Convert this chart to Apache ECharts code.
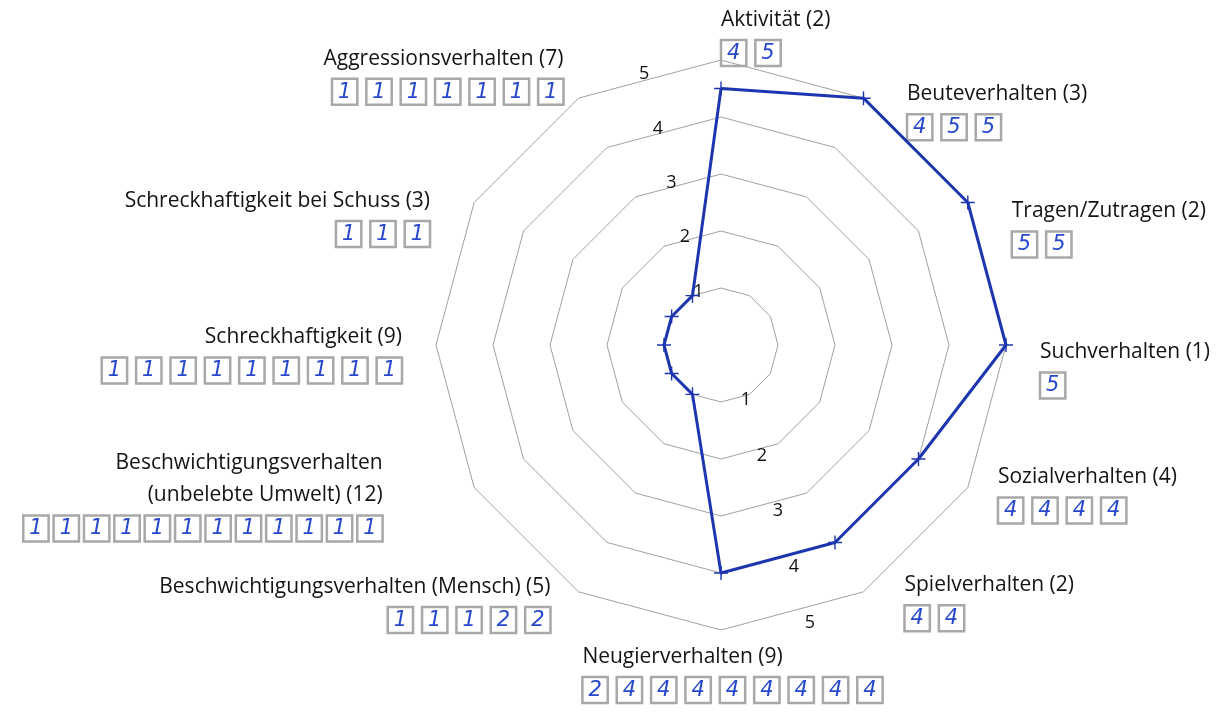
<!DOCTYPE html>
<html>
<head>
<meta charset="utf-8">
<script src="https://cdn.jsdelivr.net/npm/echarts@6/dist/echarts.min.js"></script>
<style>
  html, body { margin: 0; padding: 0; background: #ffffff; }
  #chart { width: 1218px; height: 712px; }
</style>
</head>
<body>
<div id="chart"></div>
<script>
// ---- data (counter-clockwise from the top axis) ----
const categories = [
  'Aktivität (2)',
  'Aggressionsverhalten (7)',
  'Schreckhaftigkeit bei Schuss (3)',
  'Schreckhaftigkeit (9)',
  'Beschwichtigungsverhalten\n(unbelebte Umwelt) (12)',
  'Beschwichtigungsverhalten (Mensch) (5)',
  'Neugierverhalten (9)',
  'Spielverhalten (2)',
  'Sozialverhalten (4)',
  'Suchverhalten (1)',
  'Tragen/Zutragen (2)',
  'Beuteverhalten (3)'
];
const ratings = [
  [4, 5],
  [1, 1, 1, 1, 1, 1, 1],
  [1, 1, 1],
  [1, 1, 1, 1, 1, 1, 1, 1, 1],
  [1, 1, 1, 1, 1, 1, 1, 1, 1, 1, 1, 1],
  [1, 1, 1, 2, 2],
  [2, 4, 4, 4, 4, 4, 4, 4, 4],
  [4, 4],
  [4, 4, 4, 4],
  [5],
  [5, 5],
  [4, 5, 5]
];
const values = [4.5, 1, 1, 1, 1, 1, 4, 4, 4, 5, 5, 5];
const axisMin = 0;
const axisMax = 5;
const axisStep = 1;

// ---- layout / style of the axis names (not data) ----
const nameLayout = [
  { gap: -10, align: 'left',   vAlign: 'bottom', padding: [0, 0, 0, 0],  rows: 'l' },
  { gap: 26,  align: 'right',  vAlign: 'middle', padding: [0, 2, 0, 0],  rows: '' },
  { gap: -31, align: 'right',  vAlign: 'middle', padding: [0, 71, 0, 0], rows: '' },
  { gap: 0,   align: 'right',  vAlign: 'middle', padding: [19, 34, 0, 0], rows: '' },
  { gap: 18,  align: 'right',  vAlign: 'middle', padding: [0, 76, 0, 0], rows: 's' },
  { gap: 14,  align: 'right',  vAlign: 'middle', padding: [0, 21, 0, 0], rows: '' },
  { gap: 11,  align: 'center', vAlign: 'top',    padding: [0, 0, 0, 23], rows: 'l' },
  { gap: 12,  align: 'left',   vAlign: 'middle', padding: [0, 0, 0, 35], rows: '' },
  { gap: 14,  align: 'left',   vAlign: 'middle', padding: [0, 0, 0, 18], rows: '' },
  { gap: 0,   align: 'left',   vAlign: 'middle', padding: [49, 0, 0, 34], rows: '' },
  { gap: -52, align: 'left',   vAlign: 'middle', padding: [0, 0, 0, 89], rows: '' },
  { gap: -15, align: 'left',   vAlign: 'middle', padding: [0, 0, 0, 51], rows: '' }
];

const center = [721, 345];
const radius = 285;
const ink = '#1d36b0';
const pen = '#2848cc';

const boxStyle = {
  fontSize: 21, fontFamily: 'DejaVu Sans', fontStyle: 'italic', color: pen,
  padding: [3, 6, 2, 6], borderColor: '#a8a8a8', borderWidth: 2.5, lineHeight: 34
};
const titleStyle = { fontSize: 21, fontFamily: 'Open Sans', color: '#141414', lineHeight: 32 };

const rich = {
  t: titleStyle,
  tl: Object.assign({}, titleStyle, { align: 'left' }),
  b: boxStyle,
  bl: Object.assign({}, boxStyle, { align: 'left' }),
  g: { width: 9, fontSize: 10, lineHeight: 34 },
  gl: { width: 9, fontSize: 10, lineHeight: 34, align: 'left' },
  gs: { width: 5, fontSize: 10, lineHeight: 34 }
};

function nameText(name) {
  const i = categories.indexOf(name);
  const mode = nameLayout[i].rows;
  const tk = mode === 'l' ? 'tl' : 't';
  const bk = mode === 'l' ? 'bl' : 'b';
  const gk = mode === 'l' ? 'gl' : (mode === 's' ? 'gs' : 'g');
  const title = name.split('\n').map(function (s) { return '{' + tk + '|' + s + '}'; }).join('\n');
  const boxes = ratings[i].map(function (r) { return '{' + bk + '|' + r + '}'; }).join('{' + gk + '| }');
  return title + '\n' + boxes;
}

const plusPath = 'path://M9,0H11V9H20V11H11V20H9V11H0V9H9Z';

const chart = echarts.init(document.getElementById('chart'));
chart.setOption({
  backgroundColor: '#ffffff',
  animation: false,
  radar: {
    center: center,
    radius: radius,
    startAngle: 90,
    shape: 'polygon',
    splitNumber: (axisMax - axisMin) / axisStep,
    indicator: categories.map(function (n, i) {
      return {
        name: n, min: axisMin, max: axisMax,
        nameGap: nameLayout[i].gap,
        nameTextStyle: {
          align: nameLayout[i].align,
          verticalAlign: nameLayout[i].vAlign,
          padding: nameLayout[i].padding
        }
      };
    }),
    axisName: {
      formatter: function (name) { return nameText(name); },
      color: '#141414',
      fontFamily: 'Open Sans',
      fontSize: 21,
      rich: rich
    },
    splitLine: { lineStyle: { color: '#a0a0a0', width: 1 } },
    splitArea: { show: false },
    axisLine: { show: false },
    axisTick: { show: false },
    axisLabel: { show: false }
  },
  polar: [
    { center: center, radius: 280 },
    { center: center, radius: 290 }
  ],
  angleAxis: [
    { polarIndex: 0, type: 'value', startAngle: 104, min: 0, max: 360, show: false },
    { polarIndex: 1, type: 'value', startAngle: -74, min: 0, max: 360, show: false }
  ],
  radiusAxis: [
    {
      polarIndex: 0, type: 'value', min: axisMin, max: axisMax, interval: axisStep,
      axisLine: { show: false }, axisTick: { show: false }, splitLine: { show: false },
      axisLabel: { showMinLabel: false, fontSize: 18, fontFamily: 'Open Sans', color: '#111', margin: 4 }
    },
    {
      polarIndex: 1, type: 'value', min: axisMin, max: axisMax, interval: axisStep,
      axisLine: { show: false }, axisTick: { show: false }, splitLine: { show: false },
      axisLabel: { showMinLabel: false, fontSize: 18, fontFamily: 'Open Sans', color: '#111', margin: 4 }
    }
  ],
  series: [{
    type: 'radar',
    symbol: plusPath,
    symbolSize: 14,
    lineStyle: { color: ink, width: 3 },
    itemStyle: { color: ink },
    data: [{ value: values }]
  }]
});
</script>
</body>
</html>
